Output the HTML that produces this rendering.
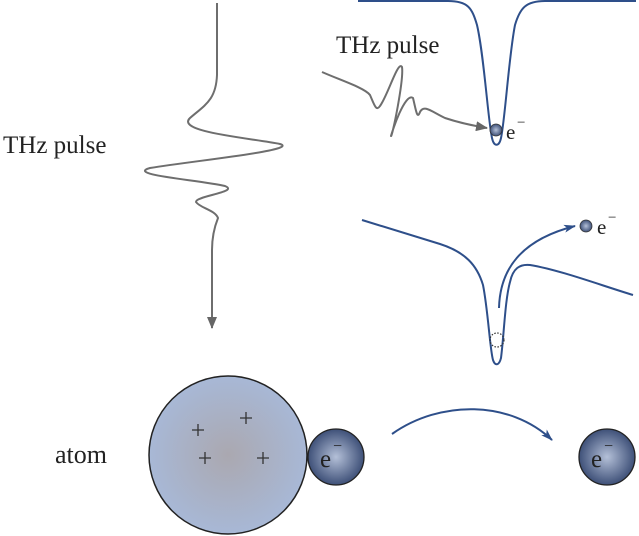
<!DOCTYPE html>
<html><head><style>body{margin:0;background:#fff}svg{display:block}text{font-family:"Liberation Serif",serif;fill:#222}</style></head><body>
<svg width="639" height="536" viewBox="0 0 639 536">
<defs>
<radialGradient id="atom" cx="0.5" cy="0.5" r="0.5"><stop offset="0" stop-color="#aaa8b0"/><stop offset="1" stop-color="#a8b8d6"/></radialGradient>
<radialGradient id="el" cx="0.5" cy="0.5" r="0.5"><stop offset="0" stop-color="#b4c0d8"/><stop offset="1" stop-color="#3e5078"/></radialGradient>
<marker id="ag" markerWidth="12" markerHeight="10" refX="11" refY="5" orient="auto" markerUnits="userSpaceOnUse"><path d="M0,0 L12,5 L0,10 Z" fill="#666"/></marker>
<marker id="ab" markerWidth="12" markerHeight="8" refX="11" refY="4" orient="auto" markerUnits="userSpaceOnUse"><path d="M0,0 L12,4 L0,8 L3,4Z" fill="#2e4f8a"/></marker>
</defs>
<text x="3" y="153" font-size="25">THz pulse</text>
<text x="55" y="463" font-size="26">atom</text>
<text x="336" y="53" font-size="25">THz pulse</text>
<!-- vertical pulse -->
<path d="M217,3 L217,75 C216,100 205,105 190,118 C175,132 250,138 280,144 C300,150 200,160 150,168 C125,175 200,180 225,186 C240,192 195,196 196,202 C200,208 215,210 218,218 C214,228 212,240 212,250 L212,328" fill="none" stroke="#6e6e6e" stroke-width="2" marker-end="url(#ag)"/>
<!-- top well -->
<path d="M358,1 L448,1 C468,1 472,8 477,25 C484,55 488,120 492,138 C494,147 499,147 501,138 C505,120 509,55 515,25 C520,8 526,1 545,1 L636,1" fill="none" stroke="#2e4f8a" stroke-width="2"/>
<path d="M322,72 C340,80 365,88 370,95 C374,104 376,112 380,106 C388,95 398,60 402,67 C404,80 392,138 391,136 C392,132 405,92 413,98 C416,110 417,120 420,112 C424,104 432,112 445,118 C460,123 475,126 487,128" fill="none" stroke="#6e6e6e" stroke-width="2" marker-end="url(#ag)"/>
<circle cx="496" cy="130" r="6" fill="url(#el)" stroke="#333" stroke-width="0.8"/>
<text x="506" y="139" font-size="21">e</text><text x="517" y="127" font-size="15">−</text>
<!-- bottom well -->
<path d="M362,220 L440,244 C465,252 477,265 483,285 C488,310 490,350 493,360 C495,366 499,366 501,358 C504,335 505,300 510,282 C513,268 520,264 530,265 C560,270 600,285 633,295" fill="none" stroke="#2e4f8a" stroke-width="2"/>
<circle cx="497" cy="340" r="7" fill="none" stroke="#333" stroke-width="1.2" stroke-dasharray="1.5,1.5"/>
<path d="M499,308 C500,270 520,240 575,226" fill="none" stroke="#2e4f8a" stroke-width="2" marker-end="url(#ab)"/>
<circle cx="586" cy="226" r="6" fill="url(#el)" stroke="#333" stroke-width="0.8"/>
<text x="597" y="234" font-size="21">e</text><text x="608" y="222" font-size="15">−</text>
<!-- atom -->
<circle cx="228" cy="455" r="79" fill="url(#atom)" stroke="#222" stroke-width="1.5"/>
<g stroke="#333" stroke-width="1.3">
<path d="M192,430h12M198,424v12M240,418h12M246,412v12M199,458h12M205,452v12M257,458h12M263,452v12"/></g>
<circle cx="336" cy="457" r="28" fill="url(#el)" stroke="#222" stroke-width="1.3"/>
<text x="320" y="467" font-size="25">e</text><text x="333" y="451" font-size="16">−</text>
<path d="M392,434 C440,400 510,400 552,440" fill="none" stroke="#2e4f8a" stroke-width="2" marker-end="url(#ab)"/>
<circle cx="607" cy="457" r="28" fill="url(#el)" stroke="#222" stroke-width="1.3"/>
<text x="591" y="467" font-size="25">e</text><text x="604" y="451" font-size="16">−</text>
</svg></body></html>
